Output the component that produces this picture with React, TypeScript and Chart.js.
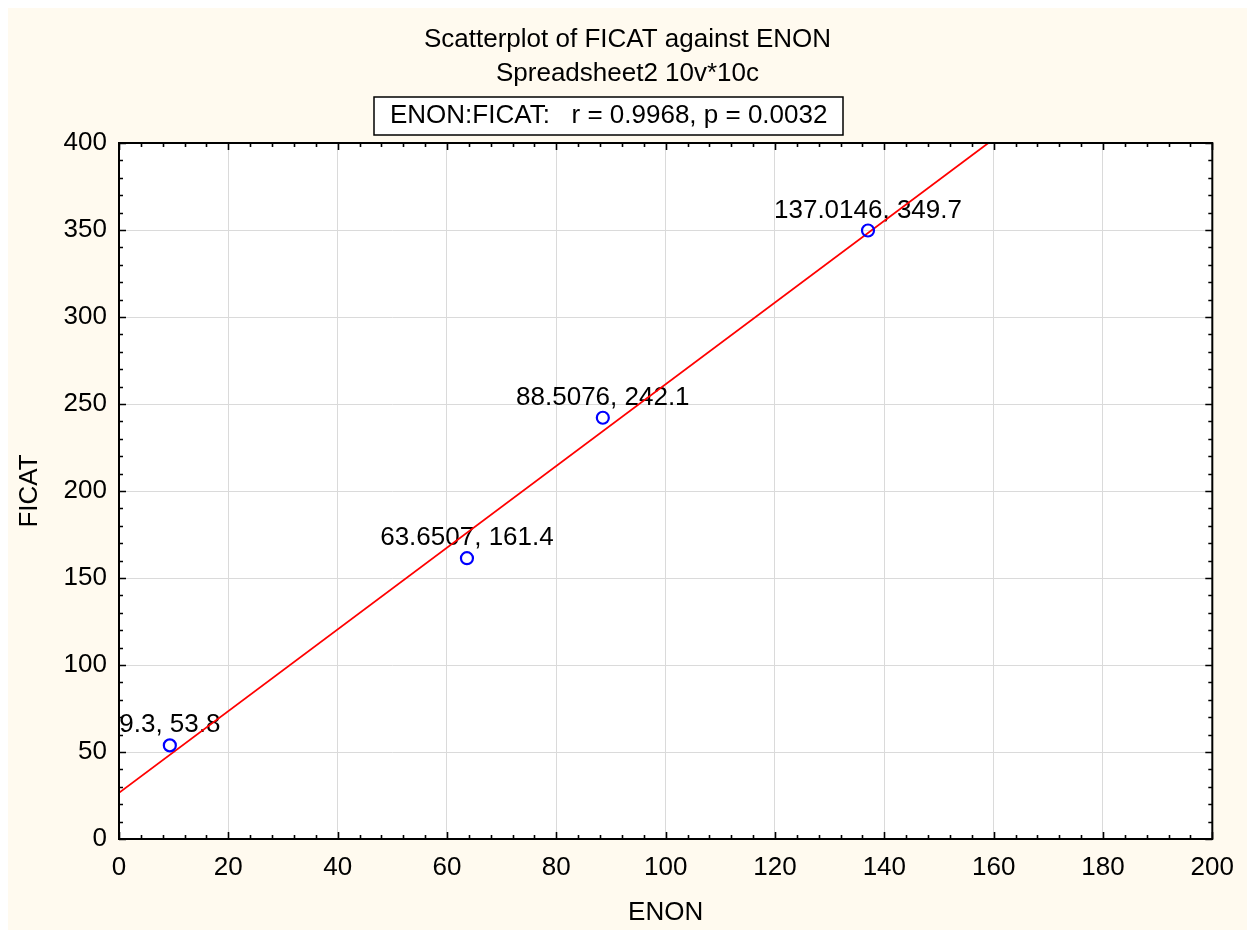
import { useEffect, useRef } from "react";
import { Chart, registerables } from "chart.js";

Chart.register(...registerables);

// Observations: ENON (x) and FICAT (y)
const enonValues = [9.3, 63.6507, 88.5076, 137.0146];
const ficatValues = [53.8, 161.4, 242.1, 349.7];

const titleLines = ["Scatterplot of FICAT against ENON", "Spreadsheet2 10v*10c"];
const statsLabel = "ENON:FICAT:   r = 0.9968, p = 0.0032";
const xAxisTitle = "ENON";
const yAxisTitle = "FICAT";

const xRange = [0, 200];
const yRange = [0, 400];
const xMajorStep = 20;
const xMinorStep = 4;
const yMajorStep = 50;
const yMinorStep = 10;

const FONT_FAMILY = "'Liberation Sans', Arial, Helvetica, sans-serif";
const FONT_SIZE = 26;
const PANEL_COLOR = "#fffaef";
const GRID_COLOR = "#dadada";

const CANVAS_W = 1239;
const CANVAS_H = 922;

// Ordinary least-squares line through the observations
function leastSquares(xs: number[], ys: number[]) {
  const n = xs.length;
  const mx = xs.reduce((s, v) => s + v, 0) / n;
  const my = ys.reduce((s, v) => s + v, 0) / n;
  let sxy = 0;
  let sxx = 0;
  for (let i = 0; i < n; i++) {
    sxy += (xs[i] - mx) * (ys[i] - my);
    sxx += (xs[i] - mx) * (xs[i] - mx);
  }
  const slope = sxy / sxx;
  return { slope, intercept: my - slope * mx };
}

const fit = leastSquares(enonValues, ficatValues);

// Background, point labels, inward tick marks, frame, titles and stats box
const decorPlugin = {
  id: "statDecor",
  beforeDraw(chart: any) {
    const { ctx, width, height, chartArea: a } = chart;
    ctx.save();
    ctx.fillStyle = PANEL_COLOR;
    ctx.fillRect(0, 0, width, height);
    ctx.fillStyle = "#ffffff";
    ctx.fillRect(a.left, a.top, a.right - a.left, a.bottom - a.top);
    ctx.restore();
  },
  beforeDatasetsDraw(chart: any) {
    const { ctx } = chart;
    const xs = chart.scales.x;
    const ys = chart.scales.y;
    ctx.save();
    ctx.font = `${FONT_SIZE}px ${FONT_FAMILY}`;
    ctx.fillStyle = "#000";
    ctx.textAlign = "center";
    ctx.textBaseline = "alphabetic";
    enonValues.forEach((xv, i) => {
      const yv = ficatValues[i];
      const px = xs.getPixelForValue(xv);
      const py = ys.getPixelForValue(yv);
      ctx.fillText(`${xv}, ${yv}`, px, py - 13);
    });
    ctx.restore();
  },
  afterDraw(chart: any) {
    const { ctx, width, chartArea: a } = chart;
    const xs = chart.scales.x;
    const ys = chart.scales.y;
    ctx.save();

    // tick marks pointing into the plot on all four sides
    ctx.strokeStyle = "#000";
    ctx.lineWidth = 1.6;
    ctx.beginPath();
    for (let v = xRange[0]; v <= xRange[1] + 1e-9; v += xMinorStep) {
      const major = Math.abs(v / xMajorStep - Math.round(v / xMajorStep)) < 1e-9;
      const len = major ? 7 : 4;
      const px = Math.round(xs.getPixelForValue(v)) + 0.5;
      ctx.moveTo(px, a.bottom);
      ctx.lineTo(px, a.bottom - len);
      ctx.moveTo(px, a.top);
      ctx.lineTo(px, a.top + len);
    }
    for (let v = yRange[0]; v <= yRange[1] + 1e-9; v += yMinorStep) {
      const major = Math.abs(v / yMajorStep - Math.round(v / yMajorStep)) < 1e-9;
      const len = major ? 7 : 4;
      const py = Math.round(ys.getPixelForValue(v)) + 0.5;
      ctx.moveTo(a.left, py);
      ctx.lineTo(a.left + len, py);
      ctx.moveTo(a.right, py);
      ctx.lineTo(a.right - len, py);
    }
    ctx.stroke();

    // plot frame
    ctx.lineWidth = 2;
    ctx.strokeRect(a.left, a.top, a.right - a.left, a.bottom - a.top);

    // titles
    ctx.font = `${FONT_SIZE}px ${FONT_FAMILY}`;
    ctx.fillStyle = "#000";
    ctx.textAlign = "center";
    ctx.textBaseline = "alphabetic";
    ctx.fillText(titleLines[0], width / 2, 39);
    ctx.fillText(titleLines[1], width / 2, 73);

    // boxed correlation summary
    const bx = 366;
    const by = 89;
    const bw = 469;
    const bh = 38;
    ctx.fillStyle = "#ffffff";
    ctx.fillRect(bx, by, bw, bh);
    ctx.lineWidth = 1.5;
    ctx.strokeStyle = "#000";
    ctx.strokeRect(bx, by, bw, bh);
    ctx.fillStyle = "#000";
    ctx.textAlign = "left";
    ctx.fillText(statsLabel, 382, 115);

    ctx.restore();
  },
};

export default function App() {
  const canvasRef = useRef<HTMLCanvasElement | null>(null);

  useEffect(() => {
    const canvas = canvasRef.current;
    if (!canvas) return;

    const points = enonValues.map((x, i) => ({ x, y: ficatValues[i] }));
    const fitLine = [
      { x: xRange[0], y: fit.intercept + fit.slope * xRange[0] },
      { x: xRange[1], y: fit.intercept + fit.slope * xRange[1] },
    ];

    const tickFont = { family: FONT_FAMILY, size: FONT_SIZE };

    const chart = new Chart(canvas, {
      type: "scatter",
      data: {
        datasets: [
          {
            label: "FICAT",
            data: points,
            pointRadius: 6,
            pointHoverRadius: 6,
            pointBorderWidth: 2.2,
            pointBorderColor: "#0000ff",
            pointBackgroundColor: "rgba(0,0,0,0)",
            showLine: false,
          },
          {
            label: "fit",
            type: "line",
            data: fitLine,
            borderColor: "#ff0000",
            borderWidth: 1.8,
            pointRadius: 0,
            fill: false,
          },
        ],
      },
      plugins: [decorPlugin],
      options: {
        responsive: false,
        animation: false,
        devicePixelRatio: 1,
        layout: { padding: { left: 0, top: 135, right: 34, bottom: 0 } },
        plugins: {
          legend: { display: false },
          tooltip: { enabled: false },
          title: { display: false },
        },
        scales: {
          x: {
            type: "linear",
            min: xRange[0],
            max: xRange[1],
            afterFit: (scale: any) => {
              scale.height = 91;
            },
            ticks: {
              stepSize: xMajorStep,
              color: "#000",
              font: tickFont,
              padding: 13,
              maxRotation: 0,
            },
            grid: { color: GRID_COLOR, lineWidth: 1, drawTicks: false },
            border: { display: false },
            title: {
              display: true,
              text: xAxisTitle,
              color: "#000",
              font: tickFont,
              padding: { top: 0, bottom: 2 },
            },
          },
          y: {
            type: "linear",
            min: yRange[0],
            max: yRange[1],
            afterFit: (scale: any) => {
              scale.width = 111;
            },
            ticks: {
              stepSize: yMajorStep,
              color: "#000",
              font: tickFont,
              padding: 12,
            },
            grid: { color: GRID_COLOR, lineWidth: 1, drawTicks: false },
            border: { display: false },
            title: {
              display: true,
              text: yAxisTitle,
              color: "#000",
              font: tickFont,
              padding: { top: 6, bottom: 0 },
            },
          },
        },
      },
    } as any);

    return () => {
      chart.destroy();
    };
  }, []);

  return (
    <div
      style={{
        position: "fixed",
        left: 8,
        top: 8,
        width: CANVAS_W,
        height: CANVAS_H,
      }}
    >
      <canvas
        ref={canvasRef}
        width={CANVAS_W}
        height={CANVAS_H}
        style={{ display: "block", width: CANVAS_W, height: CANVAS_H }}
      />
    </div>
  );
}
